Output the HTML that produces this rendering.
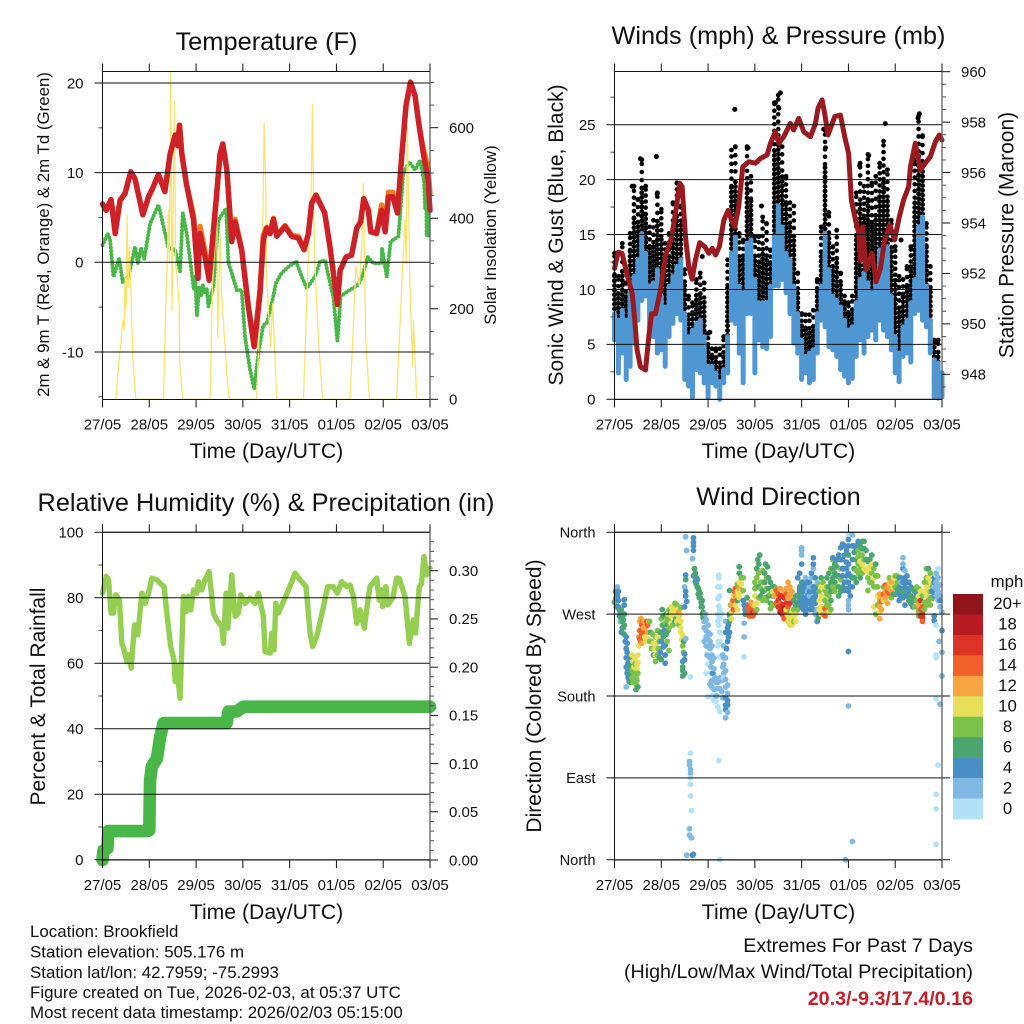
<!DOCTYPE html>
<html lang="en">
<head>
<meta charset="utf-8">
<title>Station meteogram</title>
<style>
html,body{margin:0;padding:0;background:#fff;}
svg{display:block;font-family:"Liberation Sans",Arial,sans-serif;fill:#111;}
</style>
</head>
<body>
<svg id="chart" width="1024" height="1024" viewBox="0 0 1024 1024" xmlns="http://www.w3.org/2000/svg">
  <rect x="0" y="0" width="1024" height="1024" fill="#fff"></rect>

  <g id="panel-temp"></g>
  <g id="panel-wind"></g>
  <g id="panel-rh"></g>
  <g id="panel-dir"></g>
  <g id="legend"></g>

  <text x="266.5" y="50" font-size="25.4" text-anchor="middle">Temperature (F)</text>
  <text x="778.5" y="44" font-size="25.25" text-anchor="middle">Winds (mph) &amp; Pressure (mb)</text>
  <text x="266" y="511" font-size="25.3" text-anchor="middle">Relative Humidity (%) &amp; Precipitation (in)</text>
  <text x="778.5" y="505" font-size="25.3" text-anchor="middle">Wind Direction</text>

  <text x="266.5" y="458" font-size="21.2" text-anchor="middle">Time (Day/UTC)</text>
  <text x="778.5" y="458" font-size="21.2" text-anchor="middle">Time (Day/UTC)</text>
  <text x="266.5" y="919" font-size="21.2" text-anchor="middle">Time (Day/UTC)</text>
  <text x="778.5" y="919" font-size="21.2" text-anchor="middle">Time (Day/UTC)</text>

  <text transform="translate(49,234.5) rotate(-90)" font-size="16.85" text-anchor="middle">2m &amp; 9m T (Red, Orange) &amp; 2m Td (Green)</text>
  <text transform="translate(496,235) rotate(-90)" font-size="16.8" text-anchor="middle">Solar Insolation (Yellow)</text>
  <text transform="translate(563,235) rotate(-90)" font-size="21" text-anchor="middle">Sonic Wind &amp; Gust (Blue, Black)</text>
  <text transform="translate(1013.5,235) rotate(-90)" font-size="21" text-anchor="middle">Station Pressure (Maroon)</text>
  <text transform="translate(45,696.5) rotate(-90)" font-size="21" text-anchor="middle">Percent &amp; Total Rainfall</text>
  <text transform="translate(541,696) rotate(-90)" font-size="21" text-anchor="middle">Direction (Colored By Speed)</text>

  <g font-size="16.9">
    <text x="30" y="937">Location: Brookfield</text>
    <text x="30" y="957.5">Station elevation: 505.176 m</text>
    <text x="30" y="978">Station lat/lon: 42.7959; -75.2993</text>
    <text x="30" y="998">Figure created on Tue, 2026-02-03, at 05:37 UTC</text>
    <text x="30" y="1018">Most recent data timestamp: 2026/02/03 05:15:00</text>
  </g>
  <g font-size="19.7" text-anchor="end">
    <text x="973" y="952">Extremes For Past 7 Days</text>
    <text x="973" y="978">(High/Low/Max Wind/Total Precipitation)</text>
    <text x="973" y="1005" font-weight="bold" fill="#c4202a" style="fill:#c4202a">20.3/-9.3/17.4/0.16</text>
  </g>
</svg>

<script>
/* ---------- shared axis data ---------- */
const dayLabels = ["27/05","28/05","29/05","30/05","31/05","01/05","02/05","03/05"];
const dayHours = [0,24,48,72,96,120,144,168];

/* ---------- temperature panel ---------- */
const tempTicks = [-10,0,10,20];
const tempMinorTicks = [-15,-5,5,15];
const solarTicks = [0,200,400,600];
const solarMinorTicks = [50,100,150,250,300,350,450,500,550,650,700];

const tempHours = [0,1.9,4.4,6.5,9,11.6,14.5,16.7,20.7,23.6,26,28.7,32,34.7,37.3,38.6,39.5,40.7,43,46.7,49,50,52.6,54.7,58.6,60.3,61.7,63.8,66.3,68,71.4,74.8,77.8,80.8,82.5,84.2,86,87.7,89.4,93.6,97,100.5,103.4,105.6,107.3,109.5,114,116.7,120.5,121.9,125,127.8,130.4,132.4,134,136.4,137.6,140.6,143.2,145,146.7,148.9,151.3,153.6,155.7,158,160.3,162.5,164.6,167,168];
const tempRed = [6.5,5.8,7,3.2,6.9,7.7,10.1,9.3,5.3,7.3,8.4,9.8,7.9,12.1,14.2,13,15.3,12.1,8.8,4.7,-1.8,3.2,0.6,-2,7.7,12.1,13.2,10.3,2.3,4.5,1.4,-4.9,-9.4,-3.5,2.5,3.8,3.2,4.8,2.9,4,2.9,2.7,1.4,3.2,6.6,7.5,5.5,1.7,-4.7,-0.9,0.6,0.8,3.8,4.5,7.1,5.8,3.4,3.2,5.8,3.4,7.3,7.3,5.5,12.1,17.5,20.1,18.6,15.1,12.1,9.2,5.8];
const tempOrange = [6.5,5.8,7,3.6,6.9,7.7,10.1,9.3,5.3,7.3,8.4,9.8,7.9,12.1,14.2,13,15.3,12.1,8.8,5.2,-0.8,4,1.2,-1.6,7.7,12.1,13.2,10.3,2.6,4.8,1.4,-4.9,-9.4,-3,3,3.9,3.4,4.9,3,4.1,3,2.9,1.5,3.2,6.6,7.5,5.5,1.7,-4.7,-0.9,0.6,0.8,3.8,4.5,7.1,5.8,3.4,3.3,6.4,3.8,7.8,7.8,5.8,12.1,17.5,20.1,18.6,15.1,12.6,10.6,7.6];

const dewHours = [0,2.6,3.9,5.6,8.5,10.4,13.3,16.7,18.1,19.8,21.4,24.4,28.7,31.3,33.8,37.3,39.8,41.2,43.2,45.8,46.8,47.6,48.4,49.6,50.6,51.4,52.6,53.5,54.3,56.9,59.5,61.2,63.4,64.6,66.3,68.9,71.4,73.1,75.7,77.8,80,82.5,84.3,86.8,89,91.9,95.4,99.3,102.2,104.8,109,111.6,114.2,116.7,118.4,120.5,122.2,125.3,131.3,133.8,136,138.9,143.2,143.4,145.8,147.8,151.8,154.3,157.4,160.3,162.9,164.9,165.5,166,166.3,167,167.3,168];
const dewValues = [1.9,3.2,2.5,-1.6,0.4,-2.2,-1.6,1.7,-0.1,1.6,0.4,4.3,6.4,4,1.6,1.4,-1,5.5,3.2,-1.2,-3,-1.5,-6,-2.7,-3.8,-2.5,-3.5,-3,-4.9,-2.7,4.7,5.3,6,-0.1,-1.2,-3.1,-3.1,-8.3,-12,-14.1,-10.1,-7,-6.8,-4.6,-2.3,-1.2,-0.5,0.1,-1.6,-2.9,-1.6,0.1,0.2,-2.3,-3.8,-8.8,-3.8,-3.3,-2.5,-1.2,0.6,-0.1,-0.1,1.6,-1.6,2.3,2.9,9.9,11.2,10.3,11.4,9.2,6,8,2.9,7,3,2.7];

const solarHours = [7,7.7,9.4,10.4,11.1,11.6,12.2,12.6,13.2,13.8,14.5,15.6,17.1,
  31.3,32.5,33.2,33.8,34.3,35,35.7,36.2,36.9,37.5,38.1,39.3,39.6,41.2,
  55.2,56.4,57.5,58.6,59.1,60.3,61,61.7,62.9,63.7,65.1,
  79.1,81.2,82,82.9,83.7,84.3,85.2,86.3,87.3,89.4,
  103.1,105.6,106.8,107.7,108.3,109,110.7,112.9,
  127,130,131.8,133,133.8,135,136.9,
  150.9,153.5,154.4,155.2,155.8,156.4,157.7,159.1,159.5,161.2];
const solarValues = [0,50,124,175,153,270,200,407,248,336,248,87,0,
  0,212,300,418,300,723,197,400,661,300,279,212,80,0,
  0,250,330,448,138,367,240,190,116,57,0,
  0,234,300,610,477,263,190,116,212,0,
  0,322,400,650,420,293,138,0,
  0,293,250,340,477,138,0,
  0,250,330,397,300,603,250,72,175,0];

/* ---------- winds and pressure panel ---------- */
const windTicks = [0,5,10,15,20,25];
const windMinorTicks = [2.5,7.5,12.5,17.5,22.5,27.5];
const pressureTicks = [948,950,952,954,956,958,960];
const pressureMinorTicks = [947.5,948.5,949,949.5,950.5,951,951.5,952.5,953,953.5,954.5,955,955.5,956.5,957,957.5,958.5,959,959.5];

const windHigh = [7.8,7.2,8.1,7.2,10.6,11.2,12.7,15.1,13.3,10.3,10.6,11.8,9.4,8.4,10.3,11.2,12.1,12.7,7.8,5.7,6.3,6.9,7.2,5.7,3,3,2.4,1.6,2.7,5.7,13.3,14.8,10.3,9.7,14.2,14.5,10.9,8.8,8.8,8.8,10.3,14.8,17.6,15.7,13.3,12.7,10.3,7.8,5.4,3.9,4.2,4.5,7.8,10.3,15.1,11.8,9.4,9,8.4,7.2,6.3,6.6,8.8,10.9,11.5,10.6,9.7,10.9,13.6,13.3,13.9,9.4,5.7,4.2,6.6,7.2,8.8,10.9,15.7,16.6,10.3,7.2,3.6,3.3,2.4];
const windLow = [5.4,2.4,4.2,1.8,3,5.1,7.2,9,9.4,5.7,5.7,4.2,4.5,3,5.7,6.9,7.8,7.2,1.8,1.2,0.2,2.7,2.4,1.5,0.2,1.5,1.2,0,1.5,2.4,7.2,6.9,4.2,1.5,7.8,7.8,2.4,5.4,4.8,4.6,5.7,10.3,10.3,10.9,9.7,7.8,5.1,4.2,1.8,2.4,1.5,1.8,4.2,7.2,6.6,4.8,4.5,3.9,2.7,2.1,1.5,1.9,3.9,5.4,4.2,5.7,6.3,5.4,7.2,6.3,5.7,4.5,2.4,1.6,3.9,4.2,3.4,7.8,8.1,7.2,6.6,4.2,0.2,0.1,0.2];
const gustHigh = [13.3,11.2,14.2,10.6,15.1,19.4,18.2,21.8,19.4,15.7,16.3,18.8,17.3,14.2,15.1,17.9,19.7,17.6,11.8,9.4,8.8,10.9,11.5,10.6,6,4.6,4.6,4.6,5.7,12.7,22.7,23,15.1,14.5,23,20.3,14.8,14.8,16.6,16,13.6,27,27.7,23,20.3,17.9,17.6,11.5,7.8,7.7,7.7,8.1,10.9,15.7,24.5,17,13.9,15.4,11.5,9.4,8.8,9.4,18.8,21.5,19.4,22.3,19.7,20.3,21.5,23.5,20.9,16.3,13.9,11.2,10.9,12.1,13.9,21.8,25.8,24,16,12.1,5.4,5.4,2.4];
const gustPeakHours = [61.7,21.5,138.9,156.4,155.7,107.3,82.5,85.1,84.3,130.4,125.8,68.5,13.3,21.9,9,108.2,75.4,45,147,48.9];
const gustPeakValues = [26.4,22.1,25.1,26,25.6,24.6,27,27.9,26.5,22.2,21.3,22.9,21.9,18.7,19.4,22.9,17.6,13,14.5,6.1];

const pressureHours = [0,1.9,3.9,6.5,9.1,10.4,11.6,13.3,15.9,17.6,19,21,23.6,26.1,29.2,31.3,33.5,34.7,36.4,38.1,39.8,41.5,43.7,46.3,48.4,50.1,51.8,53.8,56.1,58.3,60,61.7,63.7,65.8,68.9,72.3,74.9,78.3,80,82.5,84.3,86.8,90.2,91.9,94.5,97.1,100.5,103.1,104.4,106.5,107.8,109.5,113,115.9,118.1,120.1,121.5,123.6,125.3,126.1,127.3,129,132.1,134.2,136.4,138.6,141.2,143.7,146.1,148.3,150.9,151.8,154.3,156.9,159.4,162,164.6,166.6,168];
const pressureValues = [952.2,952.84,952.8,951.94,951.2,950.15,948.96,948.3,948.17,949.5,950.4,950.4,951.34,952.67,953.4,954.4,955.57,955.44,953.46,952.27,951.77,952.53,953.22,953.06,952.8,953,952.73,953.06,954.12,954.5,954.12,953.85,954.65,956.23,956.43,956.37,956.56,956.7,957.16,957.62,957.16,957.42,957.95,957.69,958.15,957.62,957.42,957.95,958.55,958.88,958.35,957.49,958.22,958.28,957.42,956.76,954.91,954.12,953.59,952.53,953.85,952.14,952.8,951.67,952.2,953.33,953.92,953.33,954.25,954.91,955.44,956.23,957.16,956.1,956.37,956.63,957.22,957.49,957.29];

/* ---------- humidity and precipitation panel ---------- */
const humidityTicks = [0,20,40,60,80,100];
const humidityMinorTicks = [10,30,50,70,90];
const precipTicks = [0,0.05,0.1,0.15,0.2,0.25,0.3];
const precipTickLabels = ["0.00","0.05","0.10","0.15","0.20","0.25","0.30"];
const precipMinorTicks = [0.01,0.02,0.03,0.04,0.06,0.07,0.08,0.09,0.11,0.12,0.13,0.14,0.16,0.17,0.18,0.19,0.21,0.22,0.23,0.24,0.26,0.27,0.28,0.29,0.31,0.32,0.33];

const humidityHours = [0,1.9,3.1,4.4,5.6,6.8,8.7,9.9,11.1,12.5,13.3,14.7,16.4,18.1,20.2,21.9,23.6,25.3,27.9,29.6,31.6,33,35,36.7,37.3,38.1,39.8,40.7,41.5,42.9,44.1,45.3,46.7,48.4,49.2,50.9,52.6,54.7,56.9,58.6,61.2,62,63.4,64.3,66.3,68,69.7,70.9,73.1,75.7,78.3,80,82.5,83.4,86,86.8,88,88.9,90.2,92.8,95.4,98.8,101.3,104.4,106.5,107.8,109.9,113,115.5,118.4,120.5,122.7,125.3,127,128.7,130.4,132.1,134.3,135.5,137.2,140.7,141.9,143.2,143.7,145.4,146.3,148.9,150.9,152.1,155.2,157.4,159.4,160.6,162.5,163.7,164.9,166.3,168];
const humidityValues = [81.4,86.5,85.5,75.3,75.3,80.9,79.3,66.1,64.1,60.5,62.6,58.5,71.7,68.7,81.4,78.3,81.4,86,85.5,84.4,83.4,75.3,65.1,61,54.4,59,49.3,65.1,80.4,75.8,80.4,76.3,82.4,81.4,84.9,82.4,85.5,88,75.3,73.2,71.2,66.1,81.4,70.7,87,74.3,75.3,80.9,78.3,79.9,78.3,81.4,74.3,63.6,63.1,69.2,64.1,78.3,75.3,78.8,82.4,87.5,85.5,83.4,69.2,65.1,68.2,76.3,83.4,83.4,81.4,84.9,83.4,83.9,80.4,72.2,76.3,70.7,76.3,83.4,86,79.3,82.4,77.3,83.4,77.8,79.9,86,86,80.4,66.1,73.2,69.2,83.4,84.4,92.6,87,89];

const precipHours = [0,0.5,2.5,3,23,24,24.4,25.3,27.9,29.6,31.3,63.7,64.6,68.9,72.3,168];
const precipValues = [0,0.01,0.012,0.03,0.03,0.031,0.083,0.097,0.105,0.128,0.142,0.142,0.154,0.154,0.159,0.159];

/* ---------- wind direction panel ---------- */
const directionTicks = [0,90,180,270,360];
const directionTickLabels = ["North","East","South","West","North"];

const dirHours = [
  0.5,1,1,1.5,1.5,2,2.5,3,3,4,4.5,5,3.5,5,5,
  5,6,6.5,6.5,6,7,7,7,6,
  8,8,9,9,10,10,11,11,11.5,11.5,10.5,12,
  12,12.5,13,13,14,14,13.5,15,16,17,17,18,
  18,19,20,21,21,22,21,22.5,23,23,
  24,24.5,25,26,26,26,26,25,27,28,26.5,28,27.5,
  28,29,30,30,31,32,31,33,33,34,34,34.5,35,35.5,35,
  35,35,36,36,36,36.5,39,
  36.5,37,40.5,40.5,40.5,40.5,40,36.5,36.5,36,36.5,36.5,37,36,
  41,40.5,42,42,43,43,44,44.5,45,45.5,45.5,46,
  46.5,47,48,48,47,46,48,49,50,50,51,48,47,
  50,51,49,51,52,48,52,53,54,53.5,54,53,53.5,53,53.5,54,54,54,53.5,
  59,58,58.5,58,56,55.5,55.5,56,57,57,58,57,57,57,57,56,66.5,66.5,66.5,53.5,
  59,60,60,61,61,62,62,59,63,64,65,63,64,65,64,
  66,67,68,69,70,71,72,73,
  72,73,74,73,72,74,75,76,77,77,77,78,79,79,80,81,81,82,83,84,
  81,83,84,84,85,86,85,86,87,88,87,87,89,89,88,90,90,
  88,89,90,90,91,92,93,93,94,95,96,95,93,
  94,95,96,96,96,96,97,98,97,98,99,100,100,101,102,102,102,101,103,103,104,103,102,103,104,104.5,
  95,95,96,96,97,98,99,100,101,101,102,
  105,105,106,107,106,107,108,108,107,109,109,110,110,110,111,112,112,111,113,113,
  112,114,115,115,116,116,116,117,116,117,118,119,118,119,118,119,120,120,120,120,120,120,120,120,120,118.5,122,122,
  122,123,122,123,124,124,125,125,126,126,126,127,127,128,128,124,
  129,130,131,131,132,133,132,134,134,135,130,135,136,136,137,133,134,136,
  138,139,140,140,141,142,142,141,143,143,144,145,146,144,
  146,147,147,148,148,148,149,150,150,149,148,
  151,152,153,154,155,153,155,156,
  156,156,157,157,158,158,158,159,159,160,160,161,162,161,161,162,163,163,
  163,164,165,166,165,166,167,165,166,167,168,164,164,165,165,165,165,168,168,168,167,166.5,166,165,165,165,
  39,38.5,38.5,39,39,39,39,39,39.5,38.5,38.5,39.5,37,40,40.5,54,
  0,0.5,1,2,2,2.5,3,3.5,4,4,4.5,5,
  5.5,6,6,6.5,7.5,7.5,8,8.5,
  9,9.5,9.5,10,10.5,11,11,11.5,12,12,
  12.5,13,13.5,14,14.5,14.5,15,15.5,16,16.5,17.5,17,
  18.5,19,19.5,20,20.5,21,21.5,22,22,23,23.5,23.5,24,24,
  24.5,25,25.5,25,26,26.5,27,27,27.5,28,28.5,29,29,29.5,30,30.5,31,31.5,32,32,32.5,33,33.5,34,34,35,35.5,35,
  41.5,41.5,42.5,42.5,43.5,43.5,44,44.5,45,45,46,
  46,47,47,47.5,48,49,49,49,49.5,50,50.5,51,51.5,50,50,52,52.5,52.5,51,50,53,54,54,55,55,55.5,
  53,54,54,53.5,53,54,53,55,
  57,57,58.5,59,57.5,56,56,57,57,58,58,58,58,
  59,59.5,60.5,60,61.5,61,62,63,63.5,63,64,64,65,66,66,66.5,67,
  68,68,68.5,69,70,70,71,71,72,72,73,
  73,73.5,74,74.5,75,75,74,76,76,76,77,77.5,78,78,78.5,79,80,80,80,81,82,82,83,
  82,83,83,84,85,85,85,86,86,87,88,88,89,89,90,91,91,
  89,90,91,91,92,92,92,93,94,94,95,95,96,96,
  96,96,97,97,98,98,98,99,99,99,100,100,100,101,101,102,102,102,103,103,104,104,104,105,
  105,105,106,106,106,107,107,108,108,108,109,109,109,110,110,111,111,111,112,112,113,113,114,114,
  114,115,115,116,117,117,117,118,118,119,119,119,120,120,120,121,121,121,120,
  122,122,123,123,124,124,125,125,125,126,126,127,127,127,128,128,
  129,129,130,130,131,131,132,132,133,133,134,135,135,136,136,137,137,
  138,138,139,139,140,140,141,141,142,143,144,145,145,146,
  146,147,147,148,148,149,149,149,150,150,151,
  151,152,152,153,154,154,155,155,156,156,
  157,157,158,158,159,159,160,160,160,161,161,162,162,162,
  164,164,165,165,166,166,167,167,164
];
const dirDegrees = [
  287,293,282,300,290,278,268,262,272,262,255,248,250,270,286,
  280,245,238,228,222,216,208,200,190,
  205,213,200,225,212,205,193,187,197,210,222,190,
  225,235,243,252,258,248,265,255,240,258,250,262,
  240,232,225,235,225,245,245,232,222,240,
  265,275,258,250,236,225,216,245,240,230,270,262,252,
  275,268,268,278,262,270,282,265,272,262,250,242,235,228,218,
  208,202,205,226,220,243,201,
  355,340,354,349,345,340,331,313,308,300,295,290,284,278,
  320,312,310,303,298,292,288,283,278,272,266,262,
  270,264,258,250,245,240,242,232,225,218,210,215,205,
  205,198,193,187,180,179,174,168,163,310,300,287,279,270,258,250,240,223,313,
  268,255,245,240,235,225,212,205,190,198,183,178,170,165,156,200,245,223,260,109,
  262,272,280,285,275,290,298,296,295,305,295,285,315,310,322,
  285,275,288,272,276,268,272,282,
  298,310,325,320,305,300,290,285,315,305,296,285,310,298,282,300,290,290,282,280,
  295,290,285,278,273,280,272,270,288,282,265,295,298,288,272,292,282,
  275,268,272,264,266,275,270,280,290,297,285,300,262,
  310,315,325,340,343,335,300,295,285,280,275,290,300,310,320,325,332,315,310,290,295,282,275,270,262,266,
  295,285,290,278,295,288,295,282,278,295,288,
  295,285,300,305,278,270,276,268,288,292,310,280,272,300,320,330,310,285,315,295,
  332,322,312,300,308,295,320,330,343,347,335,327,320,312,305,298,352,335,315,295,285,280,358,229,169,0,20,357,
  345,338,310,320,330,318,350,340,345,335,328,342,325,320,350,305,
  330,320,315,330,335,310,305,325,300,312,296,290,278,285,284,278,270,265,
  300,295,290,300,293,296,305,305,310,300,312,305,300,292,
  285,298,310,320,332,325,300,305,290,280,295,
  295,290,298,285,292,278,278,273,
  290,280,275,285,270,266,262,283,295,300,290,305,295,320,310,280,287,300,
  295,300,305,320,313,310,302,290,285,278,272,268,263,258,225,222,177,252,228,202,171,240,104,72,56,17,
  117,108,104,99,95,90,83,70,54,34,27,24,5,5,6,0,
  283,295,278,285,295,275,267,275,270,255,264,258,
  240,232,212,205,222,196,195,222,
  208,218,195,198,215,205,200,215,205,217,
  245,262,240,238,262,250,262,245,256,262,262,243,
  250,240,248,238,232,218,238,225,252,232,250,228,240,220,
  258,268,252,234,260,248,258,265,270,255,270,278,260,272,258,275,272,265,280,262,275,258,268,277,255,247,240,212,
  315,306,300,308,295,288,293,278,285,270,268,
  255,252,235,225,235,248,240,222,212,235,205,222,200,190,197,195,188,180,175,180,195,200,188,197,185,178,
  300,290,275,240,235,265,262,270,
  262,250,258,250,232,222,215,222,208,192,170,162,175,
  270,280,285,265,295,290,280,275,290,303,298,288,303,310,296,280,270,
  280,270,278,268,283,268,280,272,280,290,275,
  300,330,315,335,305,298,288,295,305,318,288,325,310,298,322,290,305,292,276,280,300,280,298,
  290,296,282,292,282,290,298,290,276,276,292,298,278,305,300,295,288,
  262,258,272,258,265,262,285,290,275,282,290,280,295,305,
  283,300,305,275,300,310,270,285,305,290,295,275,305,285,300,300,282,295,300,295,305,285,275,270,
  302,275,290,270,310,298,278,285,296,300,280,272,300,290,315,295,305,275,300,320,325,305,312,300,
  330,335,290,330,312,300,320,345,296,340,305,320,345,305,325,312,300,290,275,
  300,330,310,345,340,345,325,315,333,320,310,335,350,315,330,342,
  318,340,328,310,305,322,315,325,320,300,312,300,280,292,272,290,275,
  292,285,302,288,295,282,298,310,288,292,300,297,312,310,
  292,290,305,305,288,310,318,292,298,312,305,
  285,300,282,288,295,278,285,300,298,268,
  295,268,278,290,275,305,280,310,320,295,285,305,315,288,
  290,305,298,315,295,300,290,285,310
];
const dirSpeeds = [
  8,6,8,2,4,4,4,2,4,6,6,6,4,6,4,
  4,4,4,4,4,4,4,4,2,
  6,6,8,10,10,8,8,6,8,10,10,6,
  10,10,14,14,14,14,12,12,10,14,12,8,
  8,8,6,10,10,10,8,8,6,8,
  8,6,6,4,4,4,4,6,8,8,6,8,6,
  8,10,10,10,6,10,8,10,12,10,10,10,8,8,4,
  6,6,6,4,4,2,0,
  2,2,4,4,4,4,2,4,6,2,4,4,4,4,
  6,4,6,6,6,6,6,6,6,6,6,2,
  2,2,2,2,2,2,2,2,2,2,2,0,0,
  2,2,2,2,2,0,0,0,0,0,0,0,0,0,0,0,0,0,0,
  2,4,4,4,2,2,2,2,2,2,2,4,4,4,2,0,2,0,2,0,
  6,10,12,14,14,12,14,6,10,10,10,6,6,8,6,
  4,4,6,14,14,14,14,10,
  8,8,6,6,8,6,6,8,6,6,6,8,6,6,6,6,6,8,6,8,
  10,12,16,16,14,16,18,16,16,16,14,12,12,12,14,12,16,
  10,10,8,10,10,8,10,6,6,6,6,6,10,
  4,4,4,2,2,2,4,4,4,4,4,2,2,2,2,4,4,4,4,4,4,4,4,2,4,6,
  4,4,4,4,4,4,2,4,4,4,4,
  8,10,10,8,10,12,14,14,10,8,6,8,10,6,8,8,6,6,6,8,
  4,6,6,6,8,6,8,4,4,4,4,4,4,4,4,4,4,6,4,4,2,2,0,4,2,2,2,2,
  4,4,6,6,6,8,4,8,6,8,10,6,10,10,6,6,
  6,10,10,6,6,10,8,6,8,8,8,10,12,12,14,10,8,12,
  8,12,12,12,14,12,12,10,10,10,8,8,6,6,
  4,4,4,4,2,2,4,4,4,4,6,
  4,6,6,6,4,4,8,8,
  10,12,14,16,16,16,14,8,10,10,10,8,8,6,10,8,8,8,
  4,2,2,0,0,2,2,2,2,2,2,4,4,0,0,0,0,4,2,2,2,2,0,0,0,0,
  0,2,2,2,2,0,0,0,0,2,2,2,2,4,4,0,
  6,6,4,4,4,6,6,6,6,4,6,6,
  4,4,4,4,4,4,6,6,
  8,10,8,8,8,8,8,10,8,10,
  12,12,14,12,14,14,12,10,12,14,12,10,
  6,8,8,10,10,8,10,8,8,8,6,4,4,6,
  8,6,4,4,8,6,6,8,10,8,6,10,10,10,8,10,10,6,8,10,10,8,10,8,10,10,6,6,
  6,4,6,4,6,6,6,6,6,8,6,
  2,2,2,2,2,2,2,2,2,2,4,2,2,2,2,2,2,2,0,0,2,2,2,2,2,2,
  0,0,0,0,0,0,0,0,
  2,4,4,4,4,2,2,2,2,2,4,2,4,
  6,8,12,10,14,10,10,10,10,8,12,10,10,8,8,4,6,
  4,4,14,14,12,14,12,16,10,10,8,
  8,6,8,6,8,8,8,6,8,8,8,6,8,8,6,6,6,8,8,8,6,8,8,
  12,14,14,14,14,16,12,16,16,18,14,12,14,12,12,12,12,
  10,10,10,10,10,8,6,6,8,6,6,6,6,6,
  4,4,4,4,4,2,4,4,4,4,4,4,4,4,2,4,4,4,4,4,2,4,2,4,
  8,10,10,10,6,10,10,8,8,10,8,12,8,8,6,6,6,8,8,6,6,6,6,8,
  4,4,6,4,4,6,4,4,4,4,4,4,4,4,4,4,4,4,2,
  4,4,6,4,6,4,8,8,8,8,6,8,6,8,8,6,
  10,6,6,8,8,10,8,10,8,8,8,8,8,12,10,12,12,
  14,10,14,12,14,12,12,8,8,6,8,6,8,6,
  4,4,2,4,4,4,2,6,4,4,4,
  6,4,6,6,6,8,8,8,8,8,
  10,16,14,8,8,8,8,8,8,10,8,10,8,8,
  4,4,2,2,2,2,2,4,4
];

/* ---------- legend ---------- */
const legendLabels = ["20+","18","16","14","12","10","8","6","4","2","0"];
const speedColors = ["#b3e2f8","#7fb9e4","#4a8fc4","#4aa56f","#7cc24a","#e8df58","#f8a440","#f1602a","#dc3327","#b71c23","#8f1518"];

/* ---------- helpers ---------- */
const SVG_NS = "http://www.w3.org/2000/svg";
function scale(d0, d1, r0, r1) { return function (v) { return r0 + (v - d0) / (d1 - d0) * (r1 - r0); }; }
function make(parent, tag, attrs, text) {
  const node = document.createElementNS(SVG_NS, tag);
  for (const k in attrs) node.setAttribute(k, attrs[k]);
  if (text !== undefined) node.textContent = text;
  parent.appendChild(node);
  return node;
}
function pathFrom(xs, ys, xf, yf) {
  let d = "";
  const n = Math.min(xs.length, ys.length);
  for (let i = 0; i < n; i++) d += (i ? "L" : "M") + xf(xs[i]).toFixed(2) + " " + yf(ys[i]).toFixed(2);
  return d;
}
function seriesLine(parent, xs, ys, xf, yf, style) {
  const attrs = Object.assign({ d: pathFrom(xs, ys, xf, yf), fill: "none", "stroke-linejoin": "round", "stroke-linecap": "round" }, style);
  return make(parent, "path", attrs);
}

const TICK_MAJOR = 8, TICK_MINOR = 4;

function hLine(parent, x1, x2, y, stroke, width) {
  const el = make(parent, "line", { x1: x1, x2: x2, y1: y, y2: y, stroke: stroke, "stroke-width": width });
  
  
  return el;
}
function vLine(parent, x, y1, y2, stroke, width) {
  const el = make(parent, "line", { x1: x, x2: x, y1: y1, y2: y2, stroke: stroke, "stroke-width": width });
  
  
  return el;
}
function label(parent, x, y, anchor, size, str) {
  const el = make(parent, "text", { x: x, y: y, "text-anchor": anchor, "font-size": size }, str);
  
  
  return el;
}

function drawFrame(parent, g, xf) {
  /* time ticks at both edges, spines on top of everything */
  dayHours.forEach(function (h, i) {
    const x = xf(h);
    vLine(parent, x, g.top - TICK_MAJOR, g.top, "#111", 1);
    vLine(parent, x, g.bottom, g.bottom + TICK_MAJOR, "#111", 1);
    label(parent, x, g.bottom + 30, "middle", 15, dayLabels[i]);
  });
  hLine(parent, g.left, g.right, g.top, "#111", 1);
  hLine(parent, g.left, g.right, g.bottom, "#111", 1);
  vLine(parent, g.left, g.top, g.bottom, "#111", 1);
  vLine(parent, g.right, g.top, g.bottom, "#555", 1.2);
}
function drawLeftAxis(parent, g, yf, ticks, minor, labels) {
  ticks.forEach(function (t, i) {
    const y = yf(t);
    hLine(parent, g.left - TICK_MAJOR, g.right, y, "#111", 1);
    label(parent, g.left - 19, y + 5.3, "end", 15, labels ? labels[i] : String(t));
  });
  minor.forEach(function (t) { hLine(parent, g.left - TICK_MINOR, g.left, yf(t), "#444", 1); });
}
function drawRightAxis(parent, g, yf, ticks, minor, labels) {
  ticks.forEach(function (t, i) {
    const y = yf(t);
    hLine(parent, g.right, g.right + TICK_MAJOR, y, "#111", 1);
    label(parent, g.right + 19, y + 5.3, "start", 15, labels ? labels[i] : String(t));
  });
  minor.forEach(function (t) { hLine(parent, g.right, g.right + TICK_MINOR, yf(t), "#555", 1); });
}

/* ---------- temperature panel ---------- */
(function () {
  const parent = document.getElementById("panel-temp");
  const g = { left: 102.5, right: 430, top: 71.5, bottom: 399.5 };
  const xf = scale(0, 168, g.left, g.right);
  const yTemp = scale(0, 20, 262.3, 83);
  const ySolar = scale(0, 600, 399.3, 127.7);

  const dew = seriesLine(parent, dewHours, dewValues, xf, yTemp, { stroke: "#49b648", "stroke-width": 4, "stroke-dasharray": "0 3.4" });
  
  

  const solar = seriesLine(parent, solarHours, solarValues, xf, ySolar, { stroke: "#fde36e", "stroke-width": 1.3 });
  
  

  const orange = seriesLine(parent, tempHours, tempOrange, xf, yTemp, { stroke: "#f47a24", "stroke-width": 5.4 });
  
  

  const red = seriesLine(parent, tempHours, tempRed, xf, yTemp, { stroke: "#cd2027", "stroke-width": 5.4 });
  
  

  drawLeftAxis(parent, g, yTemp, tempTicks, tempMinorTicks);
  drawRightAxis(parent, g, ySolar, solarTicks, solarMinorTicks);
  drawFrame(parent, g, xf);
})();

/* ---------- winds and pressure panel ---------- */
(function () {
  const parent = document.getElementById("panel-wind");
  const g = { left: 614.5, right: 942, top: 71.5, bottom: 399.5 };
  const xf = scale(0, 168, g.left, g.right);
  const yWind = scale(0, 25, 399.3, 124.7);
  const yPressure = scale(948, 960, 374.3, 71.7);

  gustHigh.forEach(function (v, i) {
    const h = i * 2;
    const yStart = yWind(windHigh[i]);
    const yEnd = yWind(v);
    const yBreak = yStart + (yEnd - yStart) * 0.65;
    const dense = make(parent, "line", {
      x1: xf(h), x2: xf(h), y1: yStart, y2: yBreak,
      stroke: "#000", "stroke-width": 4.9, "stroke-linecap": "round",
      "stroke-dasharray": "0 4.7", "stroke-dashoffset": (i % 3) * 1.6
    });
    
    
    const sparse = make(parent, "line", {
      x1: xf(h), x2: xf(h), y1: yBreak, y2: yEnd,
      stroke: "#000", "stroke-width": 4.6, "stroke-linecap": "round",
      "stroke-dasharray": "0 " + (6 + (i % 4) * 0.7), "stroke-dashoffset": (i % 5) * 1.3
    });
    
    
    const tip = make(parent, "circle", { cx: xf(h), cy: yEnd, r: 2.4, fill: "#000" });
    
    
  });
  gustPeakHours.forEach(function (h, i) {
    const dot = make(parent, "circle", { cx: xf(h), cy: yWind(gustPeakValues[i]), r: 2.5, fill: "#000" });
    
    
  });
  windHigh.forEach(function (v, i) {
    const h = i * 2;
    const col = make(parent, "line", {
      x1: xf(h), x2: xf(h), y1: yWind(windLow[i]), y2: yWind(v),
      stroke: "#4f97d3", "stroke-width": 5, "stroke-linecap": "round"
    });
    
    
  });
  const pres = seriesLine(parent, pressureHours, pressureValues, xf, yPressure, { stroke: "#991b20", "stroke-width": 5 });
  
  

  drawLeftAxis(parent, g, yWind, windTicks, windMinorTicks);
  drawRightAxis(parent, g, yPressure, pressureTicks, pressureMinorTicks);
  drawFrame(parent, g, xf);
})();

/* ---------- humidity and precipitation panel ---------- */
(function () {
  const parent = document.getElementById("panel-rh");
  const g = { left: 102.5, right: 430, top: 532.3, bottom: 860 };
  const xf = scale(0, 168, g.left, g.right);
  const yHum = scale(0, 100, 859.7, 532.3);
  const yPrecip = scale(0, 0.3, 860, 570.7);

  const hum = seriesLine(parent, humidityHours, humidityValues, xf, yHum, { stroke: "#94cf52", "stroke-width": 5.4 });
  
  

  const rain = seriesLine(parent, precipHours, precipValues, xf, yPrecip, { stroke: "#49b648", "stroke-width": 12.6 });
  
  

  drawLeftAxis(parent, g, yHum, humidityTicks, humidityMinorTicks);
  drawRightAxis(parent, g, yPrecip, precipTicks, precipMinorTicks, precipTickLabels);
  drawFrame(parent, g, xf);
})();

/* ---------- wind direction panel ---------- */
(function () {
  const parent = document.getElementById("panel-dir");
  const g = { left: 614.5, right: 942, top: 532.3, bottom: 860 };
  const xf = scale(0, 168, g.left, g.right);
  const yDir = scale(0, 360, 859.7, 532.3);

  /* observations are painted chronologically */
  const order = dirHours.map(function (_, i) { return i; }).sort(function (a, b) { return dirHours[a] - dirHours[b]; });
  order.forEach(function (i) {
    const bin = Math.min(10, Math.floor((dirSpeeds[i] || 0) / 2));
    const dot = make(parent, "circle", { cx: xf(dirHours[i]), cy: yDir(dirDegrees[i]), r: 2.9, fill: speedColors[bin] });
    
    
  });

  directionTicks.forEach(function (t, i) {
    const y = yDir(t);
    hLine(parent, g.left - TICK_MAJOR, g.right + TICK_MAJOR, y, "#111", 1);
    label(parent, g.left - 19, y + 5.3, "end", 14.7, directionTickLabels[i]);
  });
  drawFrame(parent, g, xf);
})();

/* ---------- legend ---------- */
(function () {
  const parent = document.getElementById("legend");
  const top = 594, height = 225, left = 953, width = 30;
  const step = height / legendLabels.length;
  legendLabels.forEach(function (text, i) {
    const bin = legendLabels.length - 1 - i;
    const box = make(parent, "rect", { x: left, y: top + i * step, width: width, height: step + 0.3, fill: speedColors[bin] });
    
    
    const t = make(parent, "text", { x: 1007.5, y: 609 + i * 20.5, "text-anchor": "middle", "font-size": 16.8 }, text);
    
    
  });
  const unit = make(parent, "text", { x: 1007, y: 587, "text-anchor": "middle", "font-size": 16.8 }, "mph");
  
  
})();
</script>
</body>
</html>
